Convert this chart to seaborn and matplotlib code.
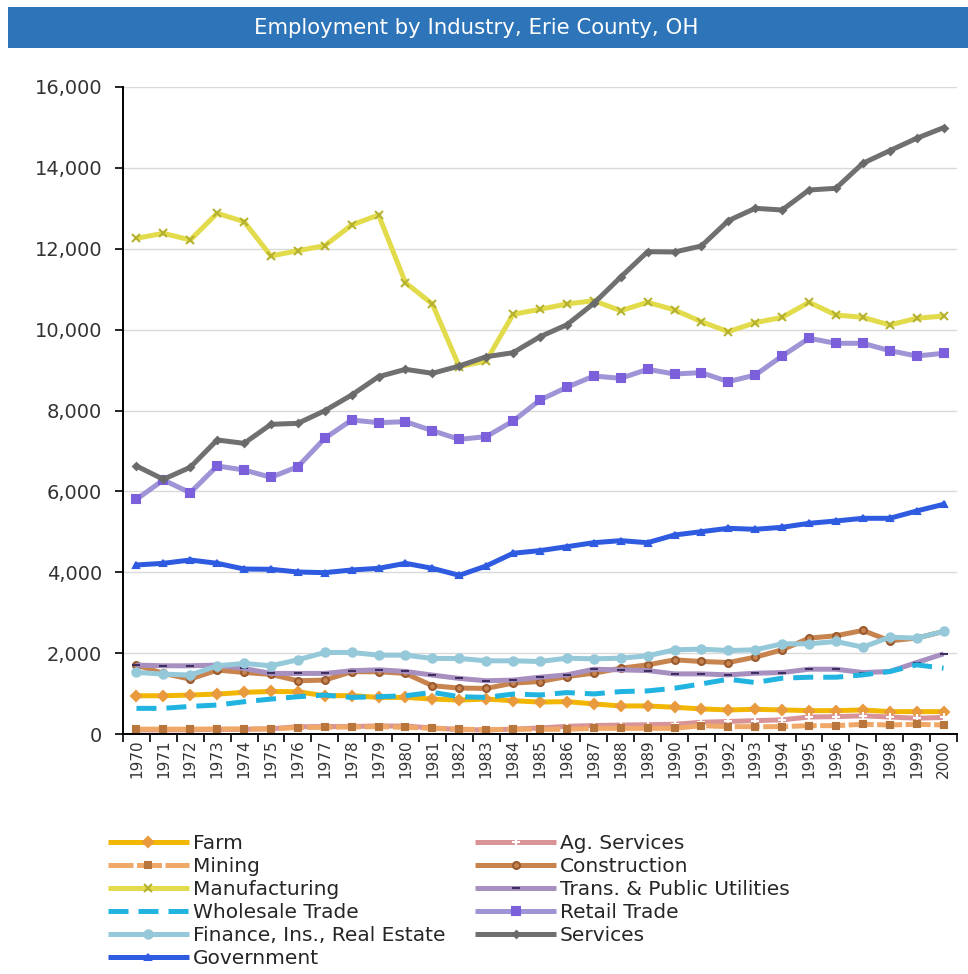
import matplotlib
matplotlib.use("Agg")
import matplotlib.pyplot as plt
from matplotlib.patches import Rectangle
from matplotlib.ticker import FuncFormatter, MultipleLocator
import seaborn as sns
import pandas as pd

years = list(range(1970, 2001))

farm = [946, 946, 963, 988, 1029, 1053, 1045, 946, 950, 905, 905, 864, 839, 864, 823, 790,
        801, 743, 694, 694, 661, 620, 595, 611, 595, 578, 578, 595, 553, 553, 553]
ag_services = [100, 100, 105, 110, 115, 130, 180, 185, 185, 200, 195, 150, 110, 100, 120, 150,
               190, 210, 220, 230, 240, 290, 310, 330, 350, 420, 430, 450, 420, 390, 410]
mining = [120, 120, 120, 125, 125, 125, 160, 165, 175, 180, 165, 140, 120, 105, 120, 116,
          116, 140, 140, 140, 140, 206, 182, 182, 182, 206, 206, 240, 223, 240, 223]
construction = [1704, 1498, 1358, 1580, 1522, 1473, 1317, 1333, 1539, 1539, 1498, 1193, 1136,
                1127, 1259, 1297, 1421, 1503, 1627, 1710, 1834, 1793, 1768, 1900, 2082, 2371,
                2429, 2561, 2305, 2371, 2536]
manufacturing = [12258, 12382, 12217, 12877, 12670, 11821, 11952, 12076, 12588, 12835, 11161,
                 10634, 9084, 9225, 10379, 10503, 10634, 10716, 10469, 10676, 10486, 10196,
                 9949, 10172, 10304, 10676, 10362, 10304, 10115, 10280, 10337]
trans_utilities = [1704, 1687, 1687, 1704, 1621, 1498, 1498, 1498, 1564, 1588, 1547, 1457, 1374,
                   1317, 1333, 1404, 1462, 1602, 1586, 1569, 1487, 1487, 1462, 1503, 1520, 1602,
                   1602, 1520, 1545, 1768, 1982]
wholesale = [634, 634, 683, 716, 798, 864, 922, 963, 905, 922, 946, 1029, 922, 905, 988, 966,
             1024, 991, 1049, 1066, 1132, 1239, 1355, 1272, 1380, 1404, 1404, 1462, 1545, 1710,
             1627]
retail = [5804, 6281, 5967, 6628, 6529, 6348, 6611, 7312, 7765, 7699, 7724, 7501, 7287, 7353,
          7740, 8260, 8574, 8853, 8796, 9018, 8903, 8936, 8713, 8878, 9348, 9785, 9662, 9662,
          9480, 9348, 9414]
finance = [1523, 1481, 1457, 1687, 1745, 1687, 1835, 2016, 2016, 1950, 1950, 1868, 1868, 1810,
           1810, 1793, 1875, 1859, 1875, 1933, 2082, 2098, 2065, 2082, 2230, 2230, 2288, 2148,
           2395, 2371, 2536]
services = [6628, 6298, 6595, 7271, 7188, 7658, 7683, 7995, 8383, 8837, 9018, 8920, 9100, 9330,
            9430, 9825, 10120, 10650, 11300, 11927, 11920, 12068, 12695, 13000, 12958, 13453,
            13495, 14113, 14425, 14732, 14994]
government = [4180, 4221, 4303, 4221, 4080, 4073, 4006, 3990, 4056, 4097, 4221, 4097, 3924, 4155,
              4469, 4535, 4632, 4731, 4781, 4731, 4921, 5003, 5087, 5062, 5112, 5210, 5268, 5334,
              5334, 5515, 5680]

series_names = ["Farm", "Ag. Services", "Mining", "Construction", "Manufacturing",
                "Trans. & Public Utilities", "Wholesale Trade", "Retail Trade",
                "Finance, Ins., Real Estate", "Services", "Government"]
series_values = [farm, ag_services, mining, construction, manufacturing, trans_utilities,
                 wholesale, retail, finance, services, government]

# line colour, marker, marker face, marker edge, marker size, dash pattern
styles = {
    "Farm": ("#F2B705", "D", "#E89A3C", "#E89A3C", 5, None),
    "Ag. Services": ("#D99498", "+", "#FFFFFF", "#FFFFFF", 6, None),
    "Mining": ("#F0A868", "s", "#B9763C", "#B9763C", 4, (5, 0.7)),
    "Construction": ("#C8844E", "o", "#C8844E", "#9A5A30", 5, None),
    "Manufacturing": ("#E2DB4C", "x", "#B5B230", "#B5B230", 6, None),
    "Trans. & Public Utilities": ("#A790C0", "_", "#3E2F60", "#3E2F60", 6, None),
    "Wholesale Trade": ("#22B4E0", None, None, None, 0, (4, 2)),
    "Retail Trade": ("#9E94D6", "s", "#7B5FDB", "#7B5FDB", 6, None),
    "Finance, Ins., Real Estate": ("#95C8D8", "o", "#95C8D8", "#95C8D8", 6, None),
    "Services": ("#707070", "D", "#6A6A6A", "#6A6A6A", 3.5, None),
    "Government": ("#2E5BE0", "^", "#2E5BE0", "#2E5BE0", 5, None),
}

sns.set_theme(style="white")
plt.rcParams["font.family"] = ["DejaVu Sans"]

fig = plt.figure(figsize=(9.68, 9.74), dpi=100)
ax = fig.add_axes([123 / 968, 1 - 734 / 974, (957 - 123) / 968, (734 - 87) / 974])

handles = {}
for name, vals in zip(series_names, series_values):
    color, marker, mfc, mec, ms, dash = styles[name]
    df = pd.DataFrame({"year": years, "value": vals})
    sns.lineplot(data=df, x="year", y="value", ax=ax, color=color, linewidth=3.6,
                 marker=marker if marker else "", markersize=ms,
                 markerfacecolor=mfc if mfc else color,
                 markeredgecolor=mec if mec else color,
                 markeredgewidth=1.5, label=name, legend=False)
    line = ax.get_lines()[-1]
    if dash is not None:
        line.set_dashes(dash)
    line.set_solid_capstyle("butt")
    handles[name] = line

ax.set_xlim(1969.5, 2000.5)
ax.set_ylim(0, 16000)
ax.yaxis.set_major_locator(MultipleLocator(2000))
ax.yaxis.set_major_formatter(FuncFormatter(lambda v, p: f"{int(v):,}"))
ax.grid(axis="y", color="#D9D9D9", linewidth=1)
ax.set_axisbelow(True)
ax.set_xlabel("")
ax.set_ylabel("")

# category labels at the centre, tick marks between categories
ax.set_xticks(years)
ax.set_xticklabels([str(y) for y in years], rotation=90, fontsize=11, color="#333333")
ax.tick_params(axis="x", which="major", length=0, pad=4)
ax.set_xticks([y - 0.5 for y in years] + [2000.5], minor=True)
ax.tick_params(axis="x", which="minor", length=6, width=1.2, color="black", direction="out",
               bottom=True)
ax.tick_params(axis="y", length=6, width=1.2, color="black", direction="out", left=True,
               labelsize=14, labelcolor="#333333", pad=9)

for side in ["top", "right"]:
    ax.spines[side].set_visible(False)
for side in ["left", "bottom"]:
    ax.spines[side].set_color("black")
    ax.spines[side].set_linewidth(1.4)

# title banner
fig.patches.append(Rectangle((8 / 968, 1 - 48 / 974), 960 / 968, 41 / 974,
                             transform=fig.transFigure, facecolor="#2E74B8",
                             edgecolor="none", zorder=0))
fig.text(476 / 968, 1 - 28 / 974, "Employment by Industry, Erie County, OH", ha="center",
         va="center", color="white", fontsize=15.3)

# legend filled column by column
left_col = ["Farm", "Mining", "Manufacturing", "Wholesale Trade",
            "Finance, Ins., Real Estate", "Government"]
right_col = ["Ag. Services", "Construction", "Trans. & Public Utilities", "Retail Trade",
             "Services"]
order = left_col + right_col
fig.legend([handles[n] for n in order], order, loc="upper left",
           bbox_to_anchor=(108 / 968, 1 - 834 / 974), ncol=2, frameon=False,
           fontsize=14.5, handlelength=4.0, handletextpad=0.2, columnspacing=1.5,
           labelspacing=0.2, borderaxespad=0, borderpad=0)

fig.savefig("out.png", dpi=100, facecolor="white")
